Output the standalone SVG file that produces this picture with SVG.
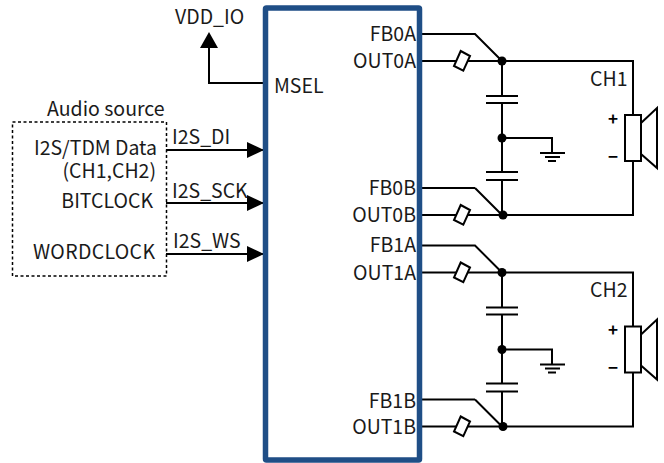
<svg xmlns="http://www.w3.org/2000/svg" xmlns:xlink="http://www.w3.org/1999/xlink" width="664" height="463" viewBox="0 0 664 463">
<style>
text{font-family:"Noto Sans CJK JP","Noto Sans",sans-serif;font-size:19.500px;fill:#1a1a1a}
.e{text-anchor:end}
.w{fill:none;stroke:#000;stroke-width:2}
.d{fill:#000}
.r{fill:#fff;stroke:#000;stroke-width:2}
.p{font-weight:700;font-size:17px;fill:#000}
</style>
<defs>
<marker id="ah" markerUnits="userSpaceOnUse" markerWidth="18" markerHeight="16" refX="17" refY="8" orient="auto"><path d="M0 0L17 8L0 16Z" fill="#000"/></marker>
<g id="ch">
<path class="w" d="M422 34H475L502 61M422 61H633V115M633 161V215H422M475 188L502 215M422 188H475M502 61V96M502 103V172M502 180V215M502 138H552V153"/>
<path class="w" d="M486 96H518M486 103H518M486 172H518M486 180H518M540 153H565M545 157H560M548 161H556"/>
<circle class="d" cx="502" cy="61" r="4.500"/><circle class="d" cx="502" cy="138" r="4.500"/><circle class="d" cx="503" cy="215" r="4.500"/>
<path class="r" d="M460.700 51L470 56L463.300 70.700L454 66Z"/><path class="r" d="M460.700 205L470 210L463.300 224.700L454 220Z"/>
<rect class="r" x="625" y="115" width="16" height="46"/>
<path class="r" d="M641 123L657 108V168L641 154Z"/>
</g>
</defs>
<g id="connectors">
<path class="w" d="M265 83H209V48"/><path class="d" d="M209 32L218 48H200Z"/>
<path class="w" d="M166 150H264" marker-end="url(#ah)"/>
<path class="w" d="M166 203H264" marker-end="url(#ah)"/>
<path class="w" d="M166 254H264" marker-end="url(#ah)"/>
</g>
<g id="channel1"><use xlink:href="#ch"/></g>
<g id="channel2"><use xlink:href="#ch" transform="translate(0 211.500)"/></g>
<g id="amp"><rect x="265.500" y="8" width="154" height="452" fill="none" stroke="#1f4e86" stroke-width="5.500" rx="1"/>
<text x="274" y="93">MSEL</text>
<text class="e" x="416" y="41">FB0A</text><text class="e" x="416" y="68">OUT0A</text><text class="e" x="416" y="195">FB0B</text><text class="e" x="416" y="222">OUT0B</text><text class="e" x="416" y="252">FB1A</text><text class="e" x="416" y="280">OUT1A</text><text class="e" x="416" y="408">FB1B</text><text class="e" x="416" y="434">OUT1B</text></g>
<g id="source"><rect x="12.500" y="122" width="154" height="154" fill="none" stroke="#000" stroke-width="1.500" stroke-dasharray="3 2.500"/>
<text x="47" y="116">Audio source</text>
<text class="e" x="157" y="155">I2S/TDM Data</text><text class="e" x="156" y="178">(CH1,CH2)</text><text class="e" x="153" y="208">BITCLOCK</text><text x="33" y="259" textLength="122">WORDCLOCK</text>
<text x="172" y="144">I2S_DI</text><text x="172" y="198">I2S_SCK</text><text x="173" y="248">I2S_WS</text></g>
<g id="vdd"><text x="175" y="24">VDD_IO</text></g>
<g id="labels"><text x="590" y="86">CH1</text><text x="590" y="297">CH2</text>
<text class="p" x="608" y="125">+</text><text class="p" x="608" y="163">−</text><text class="p" x="608" y="336">+</text><text class="p" x="608" y="374">−</text></g>
</svg>
